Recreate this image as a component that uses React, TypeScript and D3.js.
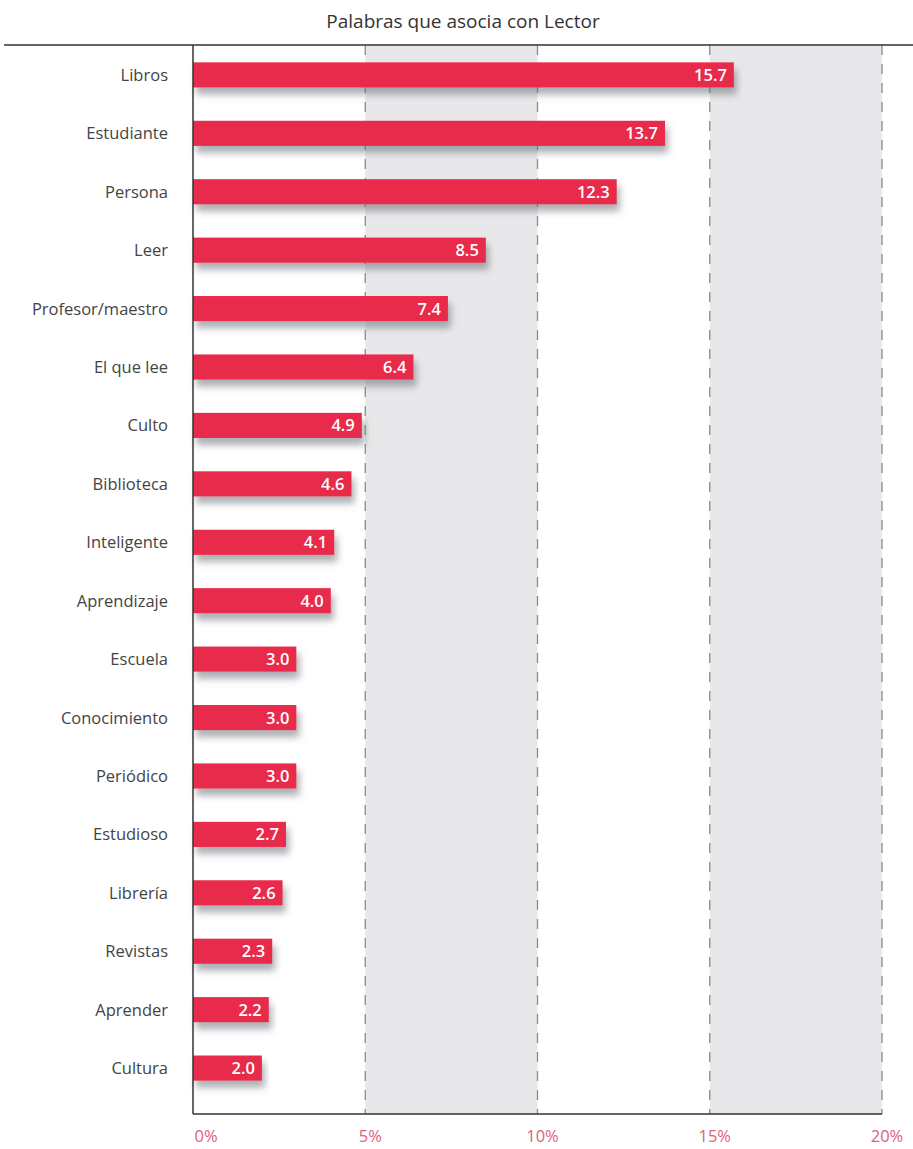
import React from "react";
import * as d3 from "d3";

const categories = ["Libros","Estudiante","Persona","Leer","Profesor/maestro","El que lee","Culto","Biblioteca","Inteligente","Aprendizaje","Escuela","Conocimiento","Periódico","Estudioso","Librería","Revistas","Aprender","Cultura"];
const values = [15.7,13.7,12.3,8.5,7.4,6.4,4.9,4.6,4.1,4.0,3.0,3.0,3.0,2.7,2.6,2.3,2.2,2.0];
const ticks = [0,5,10,15,20];
const bands = [[5,10],[15,20]];
const title = "Palabras que asocia con Lector";

export default function App() {
  const W = 913, H = 1149;
  const left = 193, right = 882, top = 45, bottom = 1114;
  const x = d3.scaleLinear().domain([0, 20]).range([left, right]);
  const y = d3.scaleBand<string>().domain(categories).range([46, 1097]).paddingInner(0.57).paddingOuter(0.28);
  const font = "'Open Sans', 'Noto Sans', sans-serif";
  return (
    <svg width={W} height={H} style={{ position: "absolute", left: 0, top: 0, background: "#fff" }} fontFamily={font}>
      <defs>
        <filter id="sh" x="-5%" y="-50%" width="115%" height="250%">
          <feDropShadow dx="3" dy="7" stdDeviation="3.5" floodColor="#6a6e78" floodOpacity="0.55" />
        </filter>
      </defs>
      <text x={463} y={28} textAnchor="middle" fontSize={19} fill="#333">{title}</text>
      {bands.map(([a, b], i) => (
        <rect key={i} x={x(a)} y={top} width={x(b) - x(a)} height={bottom - top} fill="#e8e8ea" />
      ))}
      {ticks.slice(1).map((t) => (
        <line key={t} x1={x(t)} x2={x(t)} y1={top} y2={bottom} stroke="#8a8a8a" strokeWidth={1.3} strokeDasharray="10,9" />
      ))}
      <line x1={4} x2={913} y1={top} y2={top} stroke="#333" strokeWidth={1.5} />
      {categories.map((c, i) => {
        const yy = y(c)!;
        const bw = y.bandwidth();
        return (
          <g key={c}>
            <rect x={x(0)} y={yy} width={x(values[i]) - x(0)} height={bw} fill="#e8294c" filter="url(#sh)" />
            <text x={x(values[i]) - 7} y={yy + bw / 2 + 6} textAnchor="end" fontSize={16.5} fontWeight={600} fill="#fff">
              {values[i].toFixed(1)}
            </text>
            <text x={168} y={yy + bw / 2 + 6} textAnchor="end" fontSize={16.5} fill="#444">{c}</text>
          </g>
        );
      })}
      <line x1={left} x2={left} y1={top} y2={bottom} stroke="#333" strokeWidth={1.5} />
      <line x1={left} x2={right} y1={bottom} y2={bottom} stroke="#333" strokeWidth={1.5} />
      {ticks.map((t) => (
        <text key={t} x={x(t) + (t === 0 ? 13 : 5)} y={1142} textAnchor="middle" fontSize={16.5} fill="#e06080">{t}%</text>
      ))}
    </svg>
  );
}
